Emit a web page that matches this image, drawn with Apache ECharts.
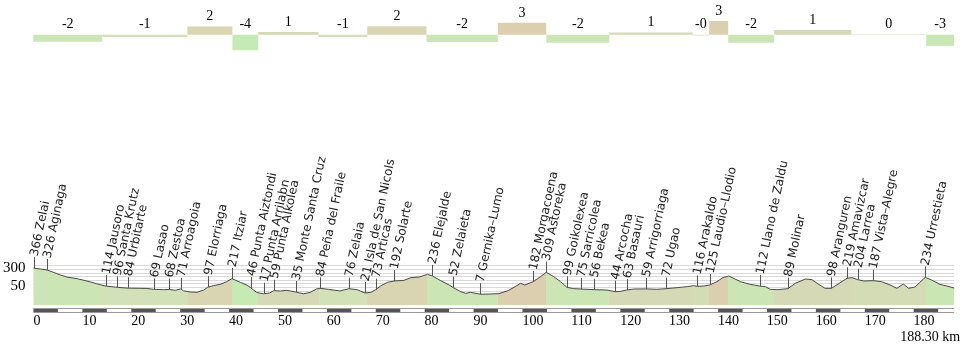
<!DOCTYPE html>
<html><head><meta charset="utf-8">
<script src="https://cdn.jsdelivr.net/npm/echarts@6/dist/echarts.min.js"></script>
<style>html,body{margin:0;padding:0;background:#fff}#c{width:972px;height:346px}</style>
</head><body><div id="c"></div>
<script>
// ---- profile (km, metres) ----
const profileKm = [0,1.4,2.8,4.1,5.5,6.8,8.9,10.9,12.9,14.7,17.1,19.4,21.8,23.2,24.6,26.6,27.8,29.0,30.1,30.7,32.1,33.4,34.8,35.6,36.8,38.2,39.5,40.6,42.3,43.6,44.4,45.6,47.0,48.3,49.1,50.5,51.8,53.6,55.2,56.6,57.9,58.6,60.3,62.7,64.5,66.2,67.8,69.0,70.0,71.1,72.4,73.8,75.8,77.2,78.9,80.6,81.6,83.3,85.0,86.0,87.4,88.4,89.4,91.4,93.4,95.2,96.9,98.3,99.6,100.5,102.2,103.7,104.9,106.4,107.8,109.1,110.5,112.0,114.7,117.3,119.0,120.1,121.3,122.8,125.2,127.5,129.4,131.6,133.7,135.0,135.8,137.1,138.3,139.8,141.0,142.2,143.5,144.6,146.6,148.5,149.7,150.7,152.1,154.3,155.8,157.9,159.2,160.6,161.9,163.2,165.0,166.4,167.4,168.6,169.8,171.8,173.5,175.2,176.6,177.9,179.0,180.3,181.3,182.4,183.7,185.4,186.8,188.3];
const profileElev = [366,354,340,308,271,243,220,188,150,118,100,88,86,84,72,67,70,58,78,50,35,30,62,100,123,141,178,220,169,132,95,30,10,21,53,49,58,35,10,30,76,86,72,49,81,67,21,30,67,123,169,188,197,234,243,280,257,192,132,90,39,16,30,4,7,12,49,100,155,132,178,248,309,248,178,100,81,76,67,62,39,44,62,76,78,72,81,95,109,123,113,118,132,178,234,257,215,178,141,118,109,72,67,81,155,215,206,141,86,86,164,225,234,206,188,192,178,132,86,146,86,104,169,238,201,141,118,90];
const totalKm = 188.3;

// ---- waypoints ----
const wpKm = [0,2.8,14.8,17.1,19.4,24.6,27.8,30.1,35.7,40.5,44.5,47.1,49.1,53.6,58.7,64.5,67.8,70.0,73.7,81.5,85.9,91.4,102.1,104.8,109.1,112.0,114.7,118.9,121.3,125.3,129.4,135.8,138.3,148.5,154.3,163.2,166.4,168.6,171.8,182.4];
const wpElev = [366,326,114,96,84,69,68,71,97,217,46,17,59,35,84,76,21,73,192,236,52,7,182,309,99,75,56,44,63,59,72,116,125,112,89,98,219,204,187,234];
const wpName = ['Zelai','Aginaga','Jausoro','Santa Krutz','Urbitarte','Lasao','Zestoa','Arroagoia','Elorriaga','Itziar','Punta Aiztondi','Punta Arrilabn','Punta Alkolea','Monte Santa Cruz','Peña del Fraile','Zelaia','Isla de San Nicols','Articas','Solarte','Elejalde','Zelaieta','Gernika–Lumo','Morgacoena','Astoreka','Goikolexea','Sarricolea','Bekea','Arcocha','Basauri','Arrigorriaga','Ugao','Arakaldo','Laudio–Llodio','Llano de Zaldu','Molinar','Aranguren','Amavizcar','Larrea','Vista–Alegre','Urrestieta'];

// ---- gradient segments ----
const segStart = [0,14.1,31.5,40.7,46.0,58.3,68.3,80.4,95.0,104.9,117.8,134.8,138.2,142.1,151.5,167.3,182.6];
const segEnd   = [14.1,31.5,40.7,46.0,58.3,68.3,80.4,95.0,104.9,117.8,134.8,138.2,142.1,151.5,167.3,182.6,188.3];
const segGrade = [-1.9,-0.6,2.2,-4.2,0.7,-0.6,2.3,-2.0,3.2,-2.2,0.6,-0.2,3.7,-2.2,1.3,0.1,-3.0];
const segLabel = ['-2','-1','2','-4','1','-1','2','-2','3','-2','1','-0','3','-2','1','0','-3'];

// ---- axis tick labels ----
const yTickLabels = [50, 300];
const xTickStep = 10;

// styles
const gradeColor = {'-4':'#c6eab3','-3':'#c9e7b3','-2':'#cce5b5','-1':'#d2e1b7','-0':'#d4dcb6','0':'#d4dcb6','1':'#d6d9b5','2':'#d9d4b2','3':'#dccfb0'};

function profileAt(km){
  for (let i=1;i<profileKm.length;i++){
    if (km<=profileKm[i]){
      const t=(km-profileKm[i-1])/(profileKm[i]-profileKm[i-1]);
      return profileElev[i-1]+t*(profileElev[i]-profileElev[i-1]);
    }
  }
  return profileElev[profileElev.length-1];
}

const serif = '"Liberation Serif", "Times New Roman", serif';
const L = 33.3, R = 972-954.1;
const chart = echarts.init(document.getElementById('c'), null, {renderer:'canvas'});
const profileData = profileKm.map((k,i)=>[k, profileElev[i]]);
const splitColors = [];
for (let v=-150; v<=400; v+=50) splitColors.push(v<0 ? 'rgba(0,0,0,0)' : '#d9d9d9');

chart.setOption({
  animation:false,
  grid:[
    {left:L, right:R, top:16.2, height:37},
    {left:L, right:R, top:265.7, height:39.6},
    {left:L, right:R, top:265.7, height:39.6},
    {left:L, right:R, top:265.7, height:39.6}
  ],
  xAxis:[
    {gridIndex:0, type:'value', min:0, max:totalKm, show:false},
    {gridIndex:1, type:'value', min:0, max:totalKm, interval:xTickStep, offset:5, z:3,
      axisLine:{show:true, onZero:false, lineStyle:{color:'#555', width:3, type:[24.45,24.45], cap:'butt'}},
      axisTick:{show:false}, splitLine:{show:false},
      axisLabel:{align:'left', margin:4, fontFamily:serif, fontSize:14, color:'#000', showMaxLabel:false,
        formatter:v=> (Math.abs(v % xTickStep) < 1e-6 ? String(v) : '')},
      name:'188.30 km', nameLocation:'end', nameGap:6,
      nameTextStyle:{fontFamily:serif, fontSize:14, color:'#000', align:'right', verticalAlign:'top', padding:[20,0,0,0]}
    },
    {gridIndex:2, type:'value', min:0, max:totalKm, offset:5, z:1,
      axisLine:{show:true, onZero:false, lineStyle:{color:'#9a9a9a', width:5, cap:'butt'}}, axisTick:{show:false}, axisLabel:{show:false}, splitLine:{show:false}},
    {gridIndex:3, type:'value', min:0, max:totalKm, offset:5, z:2,
      axisLine:{show:true, onZero:false, lineStyle:{color:'#ffffff', width:3, cap:'butt'}}, axisTick:{show:false}, axisLabel:{show:false}, splitLine:{show:false}}
  ],
  yAxis:[
    {gridIndex:0, type:'value', min:-5, max:5, show:false},
    {gridIndex:1, type:'value', min:-150, max:400, interval:50,
      axisLine:{show:false}, axisTick:{show:false},
      splitLine:{show:true, lineStyle:{color:splitColors, width:1}},
      axisLabel:{margin:8, fontFamily:serif, fontSize:15, color:'#000', verticalAlign:'bottom', lineHeight:9,
        formatter:v=> (yTickLabels.indexOf(v)>=0 ? String(v) : '')}},
    {gridIndex:2, type:'value', min:-150, max:400, show:false},
    {gridIndex:3, type:'value', min:-150, max:400, show:false}
  ],
  visualMap:[{
    type:'piecewise', show:false, dimension:0, seriesIndex:1,
    pieces: segStart.map((s,i)=> i===segStart.length-1 ? {gte:s, lte:segEnd[i]+1, color:gradeColor[segLabel[i]]} : {gte:s, lt:segEnd[i], color:gradeColor[segLabel[i]]})
  }],
  series:[
    {type:'custom', xAxisIndex:0, yAxisIndex:0, silent:true,
      data: segStart.map((s,i)=>[s, segEnd[i], segGrade[i], i]),
      renderItem:(params, api)=>{
        const i = api.value(3);
        const p0 = api.coord([api.value(0), 0]);
        const p1 = api.coord([api.value(1), api.value(2)]);
        const top = Math.min(p0[1], p1[1]);
        const h = Math.abs(p1[1]-p0[1]);
        return {type:'group', children:[
          {type:'rect', shape:{x:p0[0], y:top, width:p1[0]-p0[0], height:h}, style:{fill:gradeColor[segLabel[i]]}},
          {type:'text', x:(p0[0]+p1[0])/2, y:top-3, style:{text:segLabel[i], font:'14px '+serif, fill:'#000', align:'center', verticalAlign:'bottom'}}
        ]};
      }
    },
    {type:'line', xAxisIndex:1, yAxisIndex:1, data:profileData, showSymbol:false, silent:true,
      lineStyle:{width:0}, areaStyle:{opacity:1, origin:'start'}, z:2},
    {type:'line', xAxisIndex:1, yAxisIndex:1, data:profileData, showSymbol:false, silent:true,
      lineStyle:{width:1, color:'#4a4a4a'}, z:3},
    {type:'custom', xAxisIndex:1, yAxisIndex:1, silent:true, clip:false, z:4,
      data: wpKm.map((k,i)=>[k, wpElev[i], i]),
      renderItem:(params, api)=>{
        const km = api.value(0), i = api.value(2);
        const p = api.coord([km, profileAt(km)]);
        const x = Math.round(p[0]) + 0.5;
        return {type:'group', children:[
          {type:'line', shape:{x1:x, y1:p[1], x2:x, y2:p[1]-11}, style:{stroke:'#555', lineWidth:1}},
          {type:'text', x:x, y:p[1]-12, rotation:78*Math.PI/180,
            style:{text: wpElev[i]+' '+wpName[i], font:'12px "DejaVu Sans"', fill:'#222', align:'left', verticalAlign:'middle'}}
        ]};
      }
    }
  ]
});
</script>
</body></html>
